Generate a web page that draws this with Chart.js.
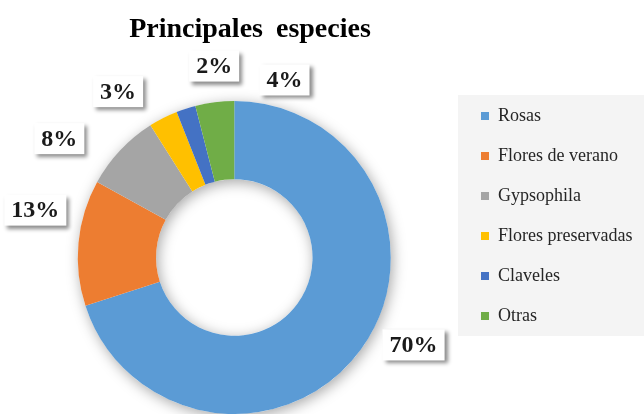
<!DOCTYPE html>
<html>
<head>
<meta charset="utf-8">
<script src="https://cdn.jsdelivr.net/npm/chart.js@4/dist/chart.umd.min.js"></script>
<style>
  html, body { margin: 0; padding: 0; background: #fff; }
  #wrap { width: 644px; height: 414px; position: relative; }
</style>
</head>
<body>
<div id="wrap"><canvas id="chart"></canvas></div>
<script>
/* global Chart */

const categories = ['Rosas', 'Flores de verano', 'Gypsophila', 'Flores preservadas', 'Claveles', 'Otras'];
const shares = [70, 13, 8, 3, 2, 4];
const colors = ['#5B9BD5', '#ED7D31', '#A5A5A5', '#FFC000', '#4472C4', '#70AD47'];
const chartTitle = 'Principales especies';

// label placement tweaks (degrees / px beyond the outer edge), like the hand-moved Excel labels
const labelNudge = [-10, 8, -9, -8, 12, 23];
const labelGap = [43, 48, 55, 46, 36, 28];

const serif = '"Liberation Serif", "Times New Roman", serif';

const titlePlugin = {
  id: 'drawTitle',
  afterDraw(chart) {
    const { ctx } = chart;
    ctx.save();
    ctx.font = `bold 28px ${serif}`;
    ctx.wordSpacing = '6px';
    ctx.fillStyle = '#000';
    ctx.textAlign = 'center';
    ctx.textBaseline = 'middle';
    ctx.fillText(chartTitle, 250, 30);
    ctx.restore();
  },
};

// move the legend block where the original sits and paint its grey panel
const legendBox = {
  id: 'legendBox',
  afterLayout(chart) {
    const lg = chart.legend;
    if (!lg) return;
    const w = lg.width;
    const h = lg.height;
    lg.left = 459;
    lg.right = lg.left + w;
    lg.top = 85;
    lg.bottom = lg.top + h;
  },
  beforeDraw(chart) {
    const { ctx } = chart;
    ctx.save();
    ctx.fillStyle = '#f4f4f4';
    ctx.fillRect(458, 95, chart.width - 458, 241);
    ctx.restore();
  },
};

const ringShadow = {
  id: 'ringShadow',
  beforeDatasetsDraw(chart) {
    const arc = chart.getDatasetMeta(0).data[0];
    if (!arc) return;
    const { x, y, outerRadius, innerRadius } = arc.getProps(['x', 'y', 'outerRadius', 'innerRadius'], true);
    const { ctx } = chart;
    ctx.save();
    ctx.shadowColor = 'rgba(0,0,0,0.35)';
    ctx.shadowBlur = 14;
    ctx.shadowOffsetX = 2;
    ctx.shadowOffsetY = 3;
    ctx.fillStyle = '#fff';
    ctx.beginPath();
    ctx.arc(x, y, outerRadius, 0, Math.PI * 2);
    ctx.arc(x, y, innerRadius, 0, Math.PI * 2, true);
    ctx.fill();
    ctx.restore();
  },
};

const pctLabels = {
  id: 'pctLabels',
  afterDatasetsDraw(chart) {
    const { ctx } = chart;
    const meta = chart.getDatasetMeta(0);
    ctx.save();
    ctx.font = `bold 24px ${serif}`;
    ctx.textAlign = 'center';
    ctx.textBaseline = 'middle';
    meta.data.forEach((arc, i) => {
      const { x, y, startAngle, endAngle, outerRadius } = arc.getProps(
        ['x', 'y', 'startAngle', 'endAngle', 'outerRadius'], true);
      const mid = (startAngle + endAngle) / 2 + labelNudge[i] * Math.PI / 180;
      const r = outerRadius + labelGap[i];
      const lx = x + Math.cos(mid) * r;
      const ly = y + Math.sin(mid) * r;
      const text = `${shares[i]}%`;
      const w = ctx.measureText(text).width + 14;
      const h = 31;
      ctx.save();
      ctx.shadowColor = 'rgba(0,0,0,0.45)';
      ctx.shadowBlur = 4;
      ctx.shadowOffsetX = 3;
      ctx.shadowOffsetY = 3;
      ctx.fillStyle = '#fff';
      ctx.fillRect(lx - w / 2, ly - h / 2, w, h);
      ctx.restore();
      ctx.fillStyle = '#1a1a1a';
      ctx.fillText(text, lx, ly + 1);
    });
    ctx.restore();
  },
};

new Chart(document.getElementById('chart'), {
  type: 'doughnut',
  data: {
    labels: categories,
    datasets: [
      {
        data: shares,
        backgroundColor: colors,
        borderWidth: 0,
      },
    ],
  },
  options: {
    responsive: true,
    maintainAspectRatio: false,
    animation: false,
    cutout: '50%',
    layout: { padding: { top: 101, bottom: 0, left: 8, right: 0 } },
    plugins: {
      title: { display: false },
      tooltip: { enabled: false },
      legend: {
        position: 'right',
        align: 'start',
        labels: {
          boxWidth: 8,
          boxHeight: 8,
          padding: 22,
          color: '#262626',
          font: { family: serif, size: 18 },
        },
      },
    },
  },
  plugins: [legendBox, ringShadow, pctLabels, titlePlugin],
});
</script>
</body>
</html>
